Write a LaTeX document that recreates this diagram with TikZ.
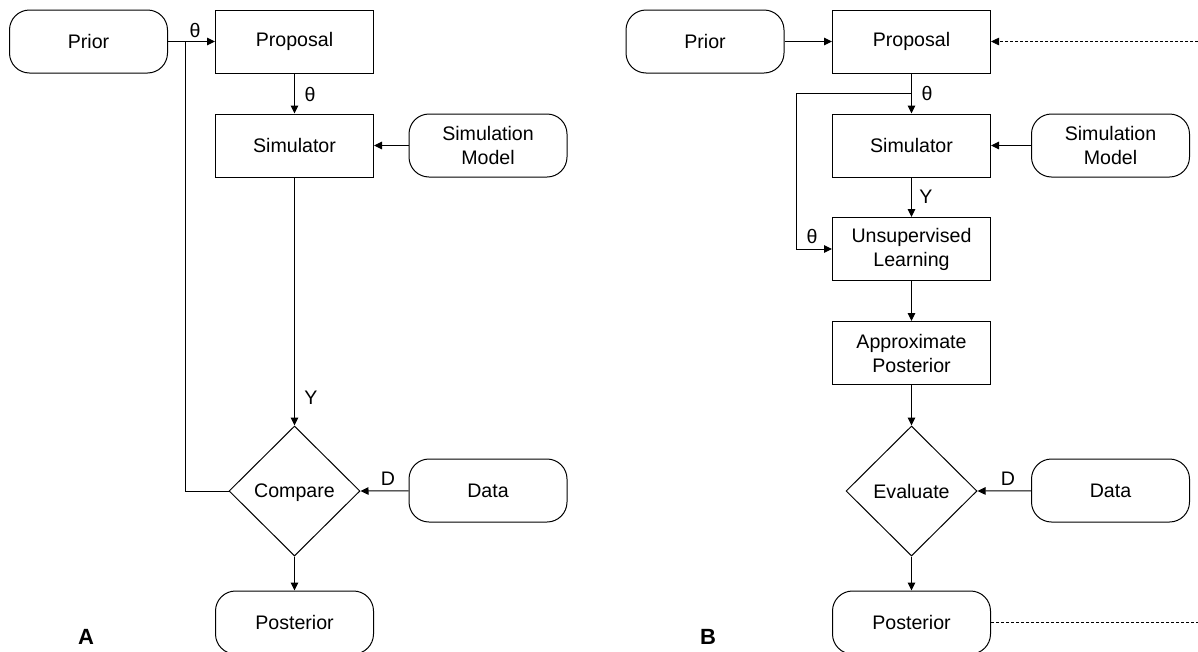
\documentclass[tikz,border=0pt]{standalone}
\usepackage{fontspec}
\setmainfont{Liberation Sans}
\usetikzlibrary{shapes.geometric,arrows.meta}
\begin{document}
\begin{tikzpicture}[x=1pt,y=-1pt,
  font=\fontsize{19.6}{24}\selectfont,
  box/.style={draw, line width=1pt, minimum width=158pt, minimum height=63pt, inner sep=0pt, align=center},
  rbox/.style={box, rounded corners=20pt},
  dec/.style={draw, line width=1pt, shape=diamond, minimum width=131pt, minimum height=130pt, inner sep=0pt, text depth=0pt},
  tip/.style={-{Triangle[length=8pt,width=7.5pt]}},
  flow/.style={line width=1pt, tip},
  link/.style={line width=1pt},
  feed/.style={line width=0.8pt, dash pattern=on 3pt off 2pt},
  lbl/.style={inner sep=0pt},
  panel/.style={font=\fontsize{22}{26}\selectfont\bfseries, inner sep=0pt}]
\useasboundingbox (0,0) rectangle (1198,651);

% ---------- Panel A: rejection scheme ----------
\node[rbox] (priorA) at (88.5,41.5) {Prior};
\node[box]  (propA)  at (294.5,41.5) {Proposal};
\node[box]  (simA)   at (294.5,145.5) {Simulator};
\node[rbox] (smodA)  at (488,145.5) {Simulation\\Model};
\node[dec]  (cmpA)   at (294.5,491) {Compare};
\node[rbox] (dataA)  at (488,490.5) {Data};
\node[rbox] (postA)  at (294.5,622.5) {Posterior};

\coordinate (jA) at (185,41.5);
\draw[flow] (priorA) -- (propA);
\draw[link] (cmpA.west) -| (jA);
\draw[flow] (propA) -- (simA);
\draw[flow] (smodA) -- (simA);
\draw[flow] (simA) -- (cmpA.north);
\draw[flow] (dataA) -- (cmpA.east);
\draw[flow] (cmpA.south) -- (postA);

\node[lbl] (thA1) at (195,30) {θ};
\node[lbl] (thA2) at (310,94) {θ};
\node[lbl] (yA)   at (311,398) {Y};
\node[lbl] (dA)   at (388,479) {D};
\node[panel] (labA) at (86,637) {A};

% ---------- Panel B: learned posterior ----------
\node[rbox] (priorB) at (705,41.5) {Prior};
\node[box]  (propB)  at (911.5,41.5) {Proposal};
\node[box]  (simB)   at (911.5,145.5) {Simulator};
\node[rbox] (smodB)  at (1110.5,145.5) {Simulation\\Model};
\node[box]  (unsB)   at (911.5,249) {Unsupervised\\Learning};
\node[box]  (apxB)   at (911.5,353) {Approximate\\Posterior};
\node[dec]  (evB)    at (911.5,491) {Evaluate};
\node[rbox] (dataB)  at (1110.5,490.5) {Data};
\node[rbox] (postB)  at (911.5,622.5) {Posterior};

\coordinate (jB) at (911.5,93);
\coordinate (cB) at (796,93);
\coordinate (edgeT) at (1198,41.5);
\coordinate (edgeB) at (1198,622.5);

\draw[flow] (priorB) -- (propB);
\draw[flow] (propB) -- (simB);
\draw[flow] (jB) -- (cB) |- (unsB.west);
\draw[flow] (smodB) -- (simB);
\draw[flow] (simB) -- (unsB);
\draw[flow] (unsB) -- (apxB);
\draw[flow] (apxB) -- (evB.north);
\draw[flow] (dataB) -- (evB.east);
\draw[flow] (evB.south) -- (postB);
\draw[feed, tip] (edgeT) -- (propB.east);
\draw[feed] (postB.east) -- (edgeB);

\node[lbl] (thB1) at (927,93) {θ};
\node[lbl] (thB2) at (812,236) {θ};
\node[lbl] (yB)   at (926,197) {Y};
\node[lbl] (dB)   at (1008,479) {D};
\node[panel] (labB) at (708,637) {B};
\end{tikzpicture}
\end{document}
